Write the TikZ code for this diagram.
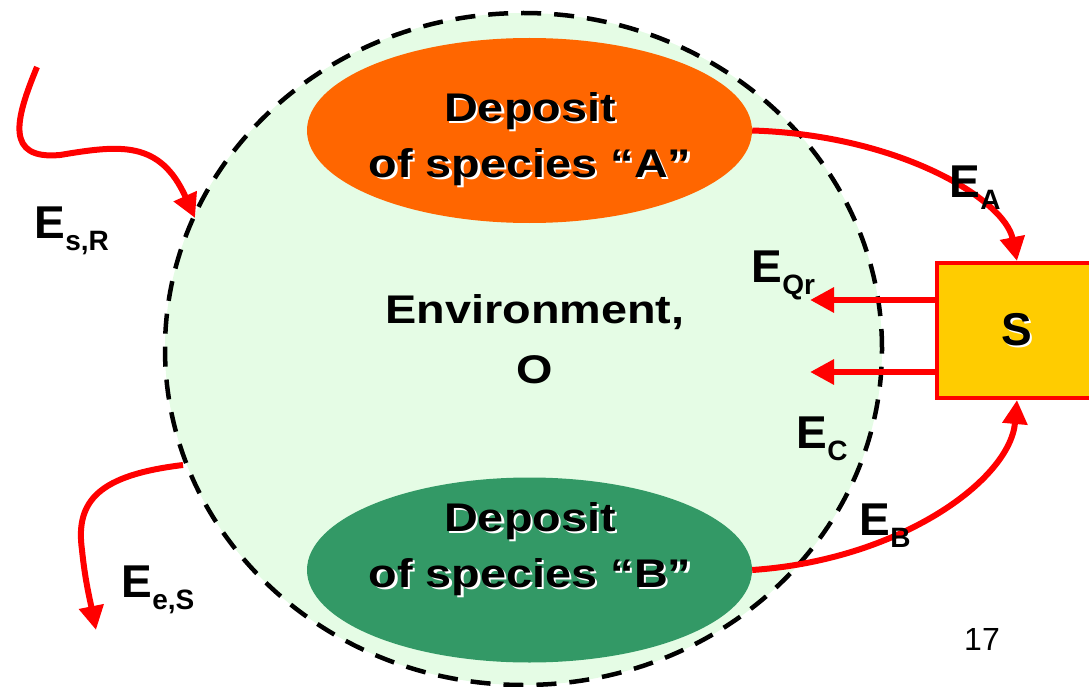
\documentclass[tikz,border=0pt]{standalone}
\usepackage{fontspec}
\setmainfont{Liberation Sans}
\usepackage{graphicx}
\usetikzlibrary{shapes.geometric,arrows.meta}
\definecolor{envfill}{HTML}{E5FCE5}
\definecolor{orangeA}{HTML}{FF6600}
\definecolor{greenB}{HTML}{339966}
\definecolor{boxfill}{HTML}{FFCC00}
\definecolor{arrowred}{HTML}{FF0000}
\newcommand\stx[1]{\scalebox{1.17}[1]{#1}}
\newcommand\shtx[1]{\makebox[0pt][l]{\kern2pt\raisebox{-2pt}{\color{white}#1}}#1}
\newcommand\lbl[2]{E\raisebox{-12pt}{\fontsize{28}{28}\selectfont #2}}
\tikzset{
  envbox/.style={ellipse, draw=black, fill=envfill, line width=4.5pt,
    dash pattern=on 20pt off 13pt, minimum width=717pt, minimum height=672pt, inner sep=0pt},
  deposit/.style={ellipse, minimum width=445pt, minimum height=185pt, inner sep=0pt, draw=none},
  bigtext/.style={font=\bfseries\fontsize{40}{56}\selectfont, align=center, inner sep=0pt},
  elabel/.style={font=\bfseries\fontsize{46}{50}\selectfont, anchor=base west, inner sep=0pt},
  flow/.style={draw=arrowred, line width=6pt, -{Triangle[length=24pt,width=24pt]}},
  sbox/.style={rectangle, draw=arrowred, fill=boxfill, line width=4pt,
    minimum width=160pt, minimum height=135pt, inner sep=0pt,
    font=\bfseries\fontsize{46}{50}\selectfont}
}
\begin{document}
\begin{tikzpicture}[x=1pt,y=-1pt]
\useasboundingbox (0,0) rectangle (1089,687);
\clip (0,0) rectangle (1089,687);
% environment
\node[envbox] (env) at (523.5,349) {};
\node[bigtext, font=\bfseries\fontsize{40}{60}\selectfont] (envtext) at (535,339) {\stx{Environment,}\\\stx{O}};
% deposits
\node[deposit, fill=orangeA] (A) at (529.5,130.5) {};
\node[bigtext] (Atext) at (530,140) {\stx{\shtx{Deposit}}\\\stx{\shtx{of species “A”}}};
\node[deposit, fill=greenB] (B) at (529.5,570) {};
\node[bigtext] (Btext) at (530,550) {\stx{\shtx{Deposit}}\\\stx{\shtx{of species “B”}}};
% system box
\node[sbox] (S) at (1017,330.5) {\shtx{S}};
% free ends
\coordinate (sRstart) at (37,67);
\coordinate (sRmid) at (60,155);
\coordinate (sRend) at (195,218);
\coordinate (eSstart) at (183,465);
\coordinate (eSmid) at (82,550);
\coordinate (eSend) at (96,630);
\coordinate (q1) at (810,300);
\coordinate (q2) at (810,372);
% arrows
\draw[flow] (A.east) .. controls (900,135) and (1005,200) .. (S.north);
\draw[flow] (B.east) .. controls (900,560) and (1010,480) .. (S.south);
\draw[flow] (S.west |- q1) -- (q1);
\draw[flow] (S.west |- q2) -- (q2);
\draw[flow] (sRstart) .. controls (15,120) and (5,160) .. (sRmid) .. controls (120,145) and (160,140) .. (sRend);
\draw[flow] (eSstart) .. controls (100,475) and (75,500) .. (eSmid) .. controls (85,580) and (90,600) .. (eSend);
% labels
\node[elabel] (lsR) at (34.5,238) {\lbl{E}{s,R}};
\node[elabel] (leS) at (121.5,597) {\lbl{E}{e,S}};
\node[elabel] (lA) at (949.5,197) {\lbl{E}{A}};
\node[elabel] (lQ) at (751.5,282) {\lbl{E}{Qr}};
\node[elabel] (lC) at (796.5,448) {\lbl{E}{C}};
\node[elabel] (lB) at (859.5,535) {\lbl{E}{B}};
\node[font=\fontsize{32}{34}\selectfont, anchor=base, inner sep=0pt] (page) at (982,650) {17};
\end{tikzpicture}
\end{document}
